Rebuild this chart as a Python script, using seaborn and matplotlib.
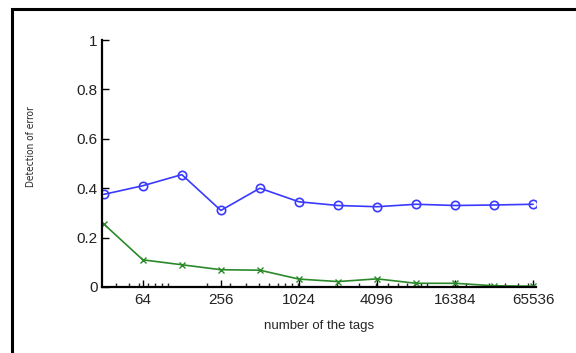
import numpy as np
import pandas as pd
import seaborn as sb
import matplotlib
matplotlib.use("Agg")
import matplotlib.pyplot as plt
from matplotlib.ticker import LogLocator, NullFormatter, FixedLocator, FixedFormatter
from matplotlib.patches import Rectangle

# number of tags (x) and the two detection curves
tags = [32, 64, 128, 256, 512, 1024, 2048, 4096, 8192, 16384, 32768, 65536]
circle_series = [0.375, 0.41, 0.455, 0.31, 0.40, 0.345, 0.33, 0.325, 0.335, 0.33, 0.332, 0.335]
cross_series = [0.255, 0.11, 0.09, 0.07, 0.068, 0.032, 0.022, 0.033, 0.015, 0.015, 0.005, 0.003]
xtick_vals = [64, 256, 1024, 4096, 16384, 65536]
xtick_labels = ["64", "256", "1024", "4096", "16384", "65536"]
ytick_vals = [0, 0.2, 0.4, 0.6, 0.8, 1]
ytick_labels = ["0", "0.2", "0.4", "0.6", "0.8", "1"]

df = pd.DataFrame({"tags": tags, "circle": circle_series, "cross": cross_series})

sb.set_style("white")
plt.rcParams['font.family'] = ['Liberation Sans', 'DejaVu Sans']

fig = plt.figure(figsize=(5.76, 3.53), dpi=100)
ax = fig.add_axes([102/576, 1-287/353, 434/576, 247/353])

sb.lineplot(data=df, x="tags", y="circle", ax=ax, color="#3a3aff", lw=1.2,
            marker="o", markersize=6, markerfacecolor="none",
            markeredgecolor="#3a3aff", markeredgewidth=1.2)
sb.lineplot(data=df, x="tags", y="cross", ax=ax, color="#2a8a2a", lw=1.2,
            marker="x", markersize=5, markeredgecolor="#2a8a2a", markeredgewidth=1.0)

ax.set_xscale("log")
ax.set_xlim(31, 69000)
ax.set_ylim(0, 1)
ax.xaxis.set_major_locator(FixedLocator(xtick_vals))
ax.xaxis.set_major_formatter(FixedFormatter(xtick_labels))
ax.xaxis.set_minor_locator(LogLocator(base=10, subs=np.arange(1, 10)))
ax.xaxis.set_minor_formatter(NullFormatter())
ax.set_yticks(ytick_vals)
ax.set_yticklabels(ytick_labels)

for s in ["top", "right"]:
    ax.spines[s].set_visible(False)
for s in ["left", "bottom"]:
    ax.spines[s].set_color("black")
    ax.spines[s].set_linewidth(1.6)

ax.tick_params(axis="both", which="major", direction="in", length=5, width=1,
               labelsize=11, colors="black", pad=3)
ax.tick_params(axis="x", which="minor", direction="in", length=3, width=1, bottom=True)
ax.tick_params(axis="x", which="major", bottom=True, pad=4)
ax.tick_params(axis="y", which="major", left=True)
for lab in ax.get_xticklabels() + ax.get_yticklabels():
    lab.set_color("#222222")

ax.set_xlabel("number of the tags", fontsize=9.5, labelpad=10)
ax.set_ylabel("Detection of error", fontsize=7.2,
              family=['Liberation Sans Narrow', 'DejaVu Sans'], fontstretch="condensed")
ax.yaxis.set_label_coords(-0.152, 0.567)

# outer frame of the original image
fig.patches.append(Rectangle((12/576, -0.02), 1.0, 1.02 - 9/353, transform=fig.transFigure,
                             fill=False, edgecolor="black", linewidth=2.2))

fig.savefig("out.png", dpi=100)
